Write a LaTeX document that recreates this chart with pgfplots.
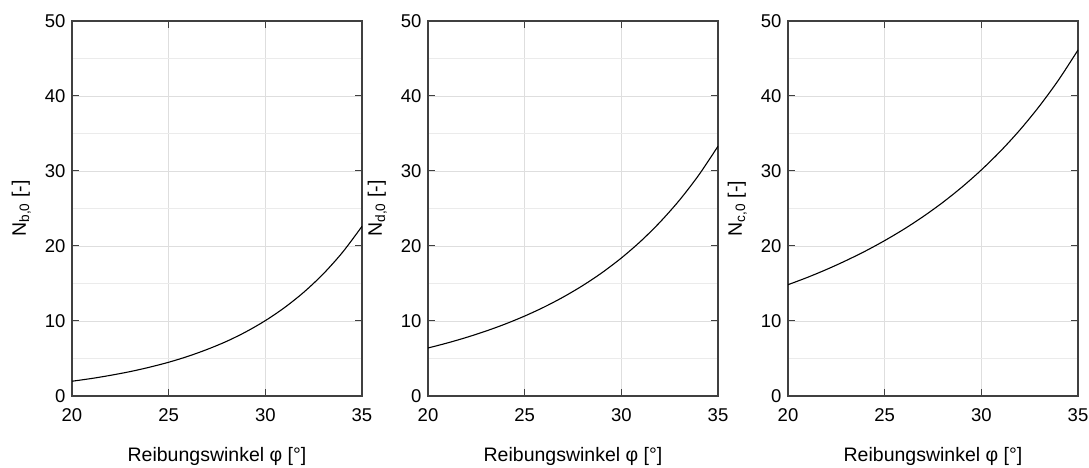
\documentclass[border=0pt]{standalone}
\usepackage{fontspec}
\setmainfont{Liberation Sans}
\usepackage{pgfplots}
\pgfplotsset{compat=1.18}
\begin{document}
\begin{tikzpicture}[x=1pt,y=1pt]
\useasboundingbox (0,0) rectangle (1089,468);
\pgfplotsset{
 myax/.style={
  scale only axis, width=290pt, height=375pt, anchor=south west,
  xmin=20, xmax=35, ymin=0, ymax=50,
  xtick={20,25,30,35}, ytick={0,10,20,30,40,50},
  minor ytick={5,15,25,35,45},
  grid=both,
  major grid style={draw=black!13, line width=0.7pt},
  minor grid style={draw=black!8, line width=0.7pt},
  tick align=inside, major tick length=7pt, minor tick length=0pt,
  tick style={draw=black!75, line width=1pt},
  axis line style={draw=black!75, line width=1.2pt},
  ticklabel style={font=\fontsize{18.5}{21}\selectfont},
  xticklabel style={yshift=-9pt},
  yticklabel style={xshift=-3pt},
  label style={font=\fontsize{19.5}{22}\selectfont},
  /pgf/number format/assume math mode=true,
  xlabel={Reibungswinkel φ [°]},
  xlabel style={at={(axis description cs:0.5,-0.176)}, anchor=base},
  ylabel style={at={(axis description cs:-0.159,0.5)}, anchor=base},
 },
 curve/.style={black, line width=1.1pt, no markers, smooth},
}
\begin{axis}[myax, at={(72pt,72pt)}, ylabel={N\textsubscript{b,0} [-]}]
\addplot[curve] coordinates {(20,1.97)(21,2.33)(22,2.76)(23,3.25)(24,3.83)(25,4.50)(26,5.29)(27,6.22)(28,7.29)(29,8.56)(30,10.05)(31,11.80)(32,13.86)(33,16.29)(34,19.18)(35,22.62)};
\end{axis}
\begin{axis}[myax, at={(428pt,72pt)}, ylabel={N\textsubscript{d,0} [-]}]
\addplot[curve] coordinates {(20,6.40)(21,7.07)(22,7.82)(23,8.66)(24,9.60)(25,10.66)(26,11.85)(27,13.20)(28,14.72)(29,16.44)(30,18.40)(31,20.63)(32,23.18)(33,26.09)(34,29.44)(35,33.30)};
\end{axis}
\begin{axis}[myax, at={(788pt,72pt)}, ylabel={N\textsubscript{c,0} [-]}]
\addplot[curve] coordinates {(20,14.84)(21,15.81)(22,16.88)(23,18.05)(24,19.32)(25,20.72)(26,22.25)(27,23.94)(28,25.80)(29,27.86)(30,30.14)(31,32.67)(32,35.49)(33,38.64)(34,42.16)(35,46.13)};
\end{axis}
\end{tikzpicture}
\end{document}
